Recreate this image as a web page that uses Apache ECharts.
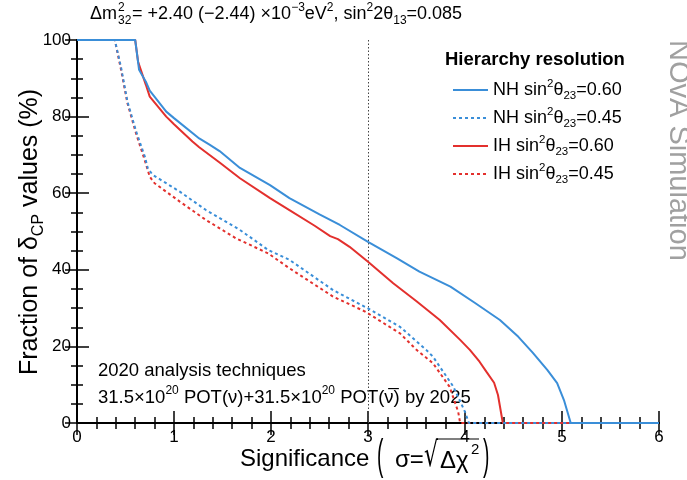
<!DOCTYPE html>
<html><head><meta charset="utf-8">
<script src="https://cdn.jsdelivr.net/npm/echarts@6/dist/echarts.min.js"></script>
<style>html,body{margin:0;padding:0;background:#fff}#c{width:687px;height:480px}</style>
</head><body><div id="c"></div><script>
// ---- data ----
const seriesNames = ['NH 0.60', 'NH 0.45', 'IH 0.60', 'IH 0.45'];
const legendHier = ['NH', 'NH', 'IH', 'IH'];
const legendVal = ['0.60', '0.45', '0.60', '0.45'];
const xTickLabels = ['0', '1', '2', '3', '4', '5', '6'];
const yTickLabels = ['0', '20', '40', '60', '80', '100'];

const nh60X = [0, 0.60, 0.64, 0.71, 0.75, 0.92, 1.00, 1.26, 1.37, 1.47, 1.68, 1.99, 2.19, 2.50, 2.71, 3.00, 3.30, 3.53, 3.85, 4.10, 4.36, 4.55, 4.70, 4.85, 4.95, 5.02, 5.09, 6];
const nh60Y = [100, 100, 92.2, 89.1, 86.8, 81.3, 79.6, 74.3, 72.6, 71.0, 66.6, 62.1, 58.7, 54.5, 51.7, 47.3, 43.0, 39.5, 35.6, 31.4, 26.9, 22.5, 18.3, 13.8, 10.4, 6.0, 0, 0];

const nh45X = [0, 0.39, 0.456, 0.52, 0.61, 0.70, 0.73, 0.78, 1.06, 1.33, 1.68, 1.97, 2.19, 2.64, 3.00, 3.33, 3.60, 3.67, 3.88, 4.00, 4.04, 6];
const nh45Y = [100, 100, 92.6, 83.9, 76.1, 69.5, 66.5, 64.8, 60.4, 55.6, 50.4, 45.2, 42.6, 34.7, 29.9, 25.1, 19.1, 17.3, 9.5, 2.9, 0, 0];

const ih60X = [0, 0.60, 0.63, 0.71, 0.75, 0.92, 1.00, 1.19, 1.26, 1.47, 1.68, 1.99, 2.19, 2.45, 2.61, 2.69, 2.81, 3.00, 3.26, 3.50, 3.74, 3.95, 4.05, 4.15, 4.22, 4.30, 4.34, 4.39, 6];
const ih60Y = [100, 100, 94.3, 88.3, 85.2, 80.0, 78.0, 73.5, 72.0, 68.0, 63.9, 58.7, 55.6, 51.5, 48.8, 48.0, 46.0, 42.1, 36.5, 31.8, 26.9, 21.7, 19.1, 16.0, 13.4, 10.5, 7.3, 0, 0];

const ih45X = [0, 0.39, 0.456, 0.52, 0.61, 0.70, 0.75, 0.80, 1.06, 1.33, 1.64, 1.97, 2.19, 2.64, 2.97, 3.33, 3.50, 3.67, 3.84, 3.93, 3.95, 6];
const ih45Y = [100, 100, 92.0, 83.5, 75.5, 68.5, 64.3, 62.6, 57.8, 53.0, 48.2, 44.3, 40.4, 33.0, 29.1, 23.4, 19.1, 15.6, 9.5, 2.9, 0, 0];

const markX = 3;

// ---- styling ----
const FONT = 'Liberation Sans, Arial, Helvetica, sans-serif';
const BLUE = '#3a8ed8';
const RED = '#e3302d';
const zip = (xs, ys) => xs.map((x, i) => [x, ys[i]]);

const chart = echarts.init(document.getElementById('c'), null, {renderer: 'canvas'});

function supSubRich(size, supSize) {
  return {
    t: {fontFamily: FONT, fontSize: size, color: '#000', lineHeight: Math.round(size * 1.35), verticalAlign: 'middle'},
    p: {fontFamily: FONT, fontSize: supSize, color: '#000', lineHeight: supSize, verticalAlign: 'top'},
    b: {fontFamily: FONT, fontSize: supSize, color: '#000', lineHeight: supSize, verticalAlign: 'bottom'}
  };
}

const seriesDefs = [
  {x: nh60X, y: nh60Y, color: BLUE, dash: 'solid'},
  {x: nh45X, y: nh45Y, color: BLUE, dash: [3, 3]},
  {x: ih60X, y: ih60Y, color: RED, dash: 'solid'},
  {x: ih45X, y: ih45Y, color: RED, dash: [3, 3]}
];

const series = seriesDefs.map((d, i) => ({
  name: seriesNames[i],
  type: 'line',
  data: zip(d.x, d.y),
  showSymbol: false,
  symbol: 'none',
  smooth: false,
  lineStyle: {color: d.color, width: 2, type: d.dash},
  itemStyle: {color: d.color},
  z: 10 - i,
  xAxisIndex: 0, yAxisIndex: 0
}));
series[0].markLine = {
  silent: true, symbol: ['none', 'none'], label: {show: false},
  lineStyle: {color: '#444', width: 1, type: [1.5, 2]},
  data: [{xAxis: markX}]
};

const axisCommon = {
  type: 'value',
  axisLine: {show: true, lineStyle: {color: '#000', width: 2}},
  axisTick: {show: true, inside: true, length: 12, lineStyle: {color: '#000', width: 1.5}},
  minorTick: {show: true, length: 6, lineStyle: {color: '#000', width: 1.5}},
  splitLine: {show: false}
};

const option = {
  animation: false,
  backgroundColor: '#fff',
  grid: {left: 77, right: 28, top: 40, bottom: 57, containLabel: false},
  xAxis: [
    Object.assign({}, axisCommon, {
      min: 0, max: 6, interval: 1, position: 'bottom',
      minorTick: Object.assign({}, axisCommon.minorTick, {splitNumber: 5}),
      axisLabel: {fontFamily: FONT, fontSize: 17, color: '#000', margin: 6,
        formatter: v => xTickLabels[Math.round(v)]}
    }),
    Object.assign({}, axisCommon, {
      min: 0, max: 6, interval: 1, position: 'top',
      minorTick: Object.assign({}, axisCommon.minorTick, {splitNumber: 5}),
      axisLabel: {show: false}
    })
  ],
  yAxis: [
    Object.assign({}, axisCommon, {
      min: 0, max: 100, interval: 20, position: 'left',
      minorTick: Object.assign({}, axisCommon.minorTick, {splitNumber: 4}),
      axisLabel: {fontFamily: FONT, fontSize: 17, color: '#000', margin: 6,
        formatter: v => yTickLabels[Math.round(v / 20)]}
    }),
    Object.assign({}, axisCommon, {
      min: 0, max: 100, interval: 20, position: 'right',
      minorTick: Object.assign({}, axisCommon.minorTick, {splitNumber: 4}),
      axisLabel: {show: false}
    })
  ],
  legend: {
    data: seriesNames,
    orient: 'vertical',
    left: 447, top: 73,
    itemWidth: 35, itemHeight: 14, itemGap: 4,
    itemStyle: {opacity: 0},
    formatter: name => {
      const i = seriesNames.indexOf(name);
      return `{t|${legendHier[i]} sin}{p|2}{t|θ}{b|23}{t|=${legendVal[i]}}`;
    },
    textStyle: {rich: supSubRich(18, 11.5), padding: [0, 0, 0, 0]}
  },
  graphic: [
    {type: 'text', left: 445, top: 50, style: {text: 'Hierarchy resolution', fontFamily: FONT, fontSize: 18.5, fontWeight: 'bold', fill: '#000'}},
    // top title
    {type: 'text', x: 90, y: 14, style: {text: 'Δm', fontFamily: FONT, fontSize: 18, fill: '#000', verticalAlign: 'middle'}},
    {type: 'text', x: 118, y: 8, style: {text: '2', fontFamily: FONT, fontSize: 12, fill: '#000', verticalAlign: 'middle'}},
    {type: 'text', x: 118, y: 21, style: {text: '32', fontFamily: FONT, fontSize: 12, fill: '#000', verticalAlign: 'middle'}},
    {type: 'text', x: 132, y: 14, style: {
      text: '{t|= +2.40 (−2.44) ×10}{s|−3}{t|eV}{s|2}{t|, sin}{s|2}{t|2θ}{b|13}{t|=0.085}',
      verticalAlign: 'middle', align: 'left',
      rich: {
        t: {fontFamily: FONT, fontSize: 18, fill: '#000', lineHeight: 25, verticalAlign: 'middle'},
        s: {fontFamily: FONT, fontSize: 12, fill: '#000', lineHeight: 12, verticalAlign: 'top'},
        b: {fontFamily: FONT, fontSize: 12, fill: '#000', lineHeight: 12, verticalAlign: 'bottom'}
      }
    }},
    // y axis title
    {type: 'text', x: 30, y: 232, rotation: Math.PI / 2, style: {
      text: '{t|Fraction of δ}{b|CP}{t| values (%)}',
      align: 'center', verticalAlign: 'middle',
      rich: {
        t: {fontFamily: FONT, fontSize: 25, fill: '#000', lineHeight: 33, verticalAlign: 'middle'},
        b: {fontFamily: FONT, fontSize: 16, fill: '#000', lineHeight: 16, verticalAlign: 'bottom'}
      }
    }},
    // x axis title
    {type: 'text', x: 240, y: 459, style: {text: 'Significance', fontFamily: FONT, fontSize: 24, fill: '#000', verticalAlign: 'middle'}},
    {type: 'text', x: 377, y: 457, scaleX: 0.8, scaleY: 1.75, style: {text: '(', fontFamily: FONT, fontSize: 24, fill: '#000', verticalAlign: 'middle'}},
    {type: 'text', x: 395, y: 460, style: {text: 'σ=', fontFamily: FONT, fontSize: 24, fill: '#000', verticalAlign: 'middle'}},
    {type: 'text', x: 424, y: 457, scaleY: 1.55, style: {text: '√', fontFamily: 'DejaVu Sans, sans-serif', fontSize: 22, fill: '#000', verticalAlign: 'middle'}},
    {type: 'line', shape: {x1: 437, y1: 439, x2: 479, y2: 439}, style: {stroke: '#000', lineWidth: 1.2}},
    {type: 'text', x: 440, y: 461, style: {text: 'Δχ', fontFamily: FONT, fontSize: 24, fill: '#000', verticalAlign: 'middle'}},
    {type: 'text', x: 471, y: 450, style: {text: '2', fontFamily: FONT, fontSize: 15, fill: '#000', verticalAlign: 'middle'}},
    {type: 'text', x: 483, y: 457, scaleX: 0.8, scaleY: 1.75, style: {text: ')', fontFamily: FONT, fontSize: 24, fill: '#000', verticalAlign: 'middle'}},
    // annotations
    {type: 'text', x: 98, y: 371, style: {text: '2020 analysis techniques', fontFamily: FONT, fontSize: 18.5, fill: '#000', verticalAlign: 'middle'}},
    {type: 'text', x: 98, y: 398, style: {
      text: '{t|31.5×10}{s|20}{t| POT(ν)+31.5×10}{s|20}{t| POT(ν\u0305) by 2025}',
      verticalAlign: 'middle',
      rich: {
        t: {fontFamily: FONT, fontSize: 18.5, fill: '#000', lineHeight: 26, verticalAlign: 'middle'},
        s: {fontFamily: FONT, fontSize: 12, fill: '#000', lineHeight: 12, verticalAlign: 'top'}
      }
    }},
    // NOvA Simulation
    {type: 'text', x: 678, y: 40, rotation: -Math.PI / 2, style: {text: 'NOvA Simulation', fontFamily: FONT, fontSize: 29, fill: '#a0a0a0', align: 'left', verticalAlign: 'middle'}}
  ],
  series: series
};
chart.setOption(option);
</script></body></html>
